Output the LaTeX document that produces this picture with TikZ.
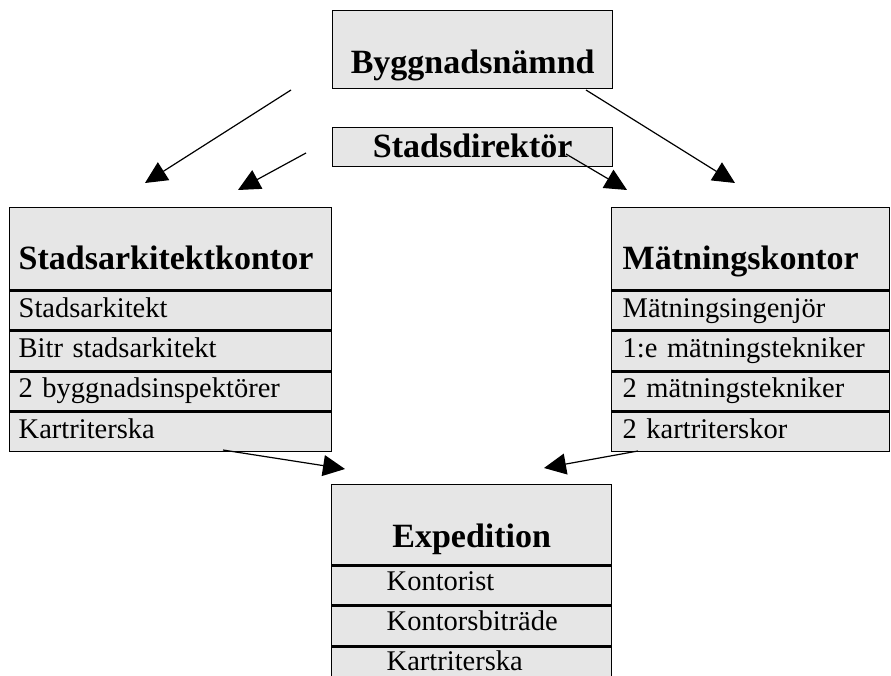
\documentclass[tikz,border=0pt]{standalone}
\usepackage{fontspec}
\setmainfont{Liberation Serif}
\usetikzlibrary{arrows.meta, positioning}
\definecolor{cellgray}{HTML}{E6E6E6}
\tikzstyle{cell} = [rectangle, draw, line width=1.4pt, fill=cellgray, inner ysep=0pt, anchor=north west, align=left]
\tikzstyle{head} = [cell, font=\fontsize{34}{36}\selectfont\bfseries]
\tikzstyle{row} = [cell, minimum height=39pt, text height=20pt, text depth=7pt, font=\fontsize{28.5}{30}\selectfont]
\tikzstyle{arkcol} = [text width=304pt, inner xsep=9pt]
\tikzstyle{matcol} = [text width=256pt, inner xsep=11pt]
\tikzstyle{expcol} = [text width=170pt, inner xsep=55pt]
\tikzstyle{reg} = [-{Triangle[length=22pt, width=21pt]}, line width=1.2pt]

\begin{document}
\begin{tikzpicture}[x=1pt, y=-1pt]
  \useasboundingbox (0,0) rectangle (891,676);

  % top
  \node[head, align=center, text width=280pt, inner xsep=0pt, minimum height=78pt,
        text height=52pt, text depth=4pt] (namnd) at (332,10) {Byggnadsnämnd};
  \node[head, align=center, text width=280pt, inner xsep=0pt, minimum height=39pt,
        text height=24pt, text depth=3pt] (dir) at (332,127) {Stadsdirektör};

  % Stadsarkitektkontor
  \node[head, arkcol, minimum height=82pt, text height=50pt, text depth=8pt] (ark) at (9,207) {Stadsarkitektkontor};
  \node[row, arkcol, below=0pt of ark] (ark1) {Stadsarkitekt};
  \node[row, arkcol, below=0pt of ark1] (ark2) {Bitr stadsarkitekt};
  \node[row, arkcol, below=0pt of ark2] (ark3) {2 byggnadsinspektörer};
  \node[row, arkcol, below=0pt of ark3] (ark4) {Kartriterska};

  % Mätningskontor
  \node[head, matcol, minimum height=82pt, text height=50pt, text depth=8pt] (mat) at (611,207) {Mätningskontor};
  \node[row, matcol, below=0pt of mat] (mat1) {Mätningsingenjör};
  \node[row, matcol, below=0pt of mat1] (mat2) {1:e mätningstekniker};
  \node[row, matcol, below=0pt of mat2] (mat3) {2 mätningstekniker};
  \node[row, matcol, below=0pt of mat3] (mat4) {2 kartriterskor};

  % Expedition
  \node[head, expcol, align=center, minimum height=80pt, text height=50pt, text depth=4pt] (exp) at (331,484) {Expedition};
  \node[row, expcol, text height=18pt, text depth=9pt, below=0pt of exp] (exp1) {Kontorist};
  \node[row, expcol, text height=18pt, text depth=9pt, below=0pt of exp1] (exp2) {Kontorsbiträde};
  \node[row, expcol, text height=18pt, text depth=9pt, below=0pt of exp2] (exp3) {Kartriterska};

  % arrow ends
  \coordinate (s1) at (291,90);  \coordinate (t1) at (145,183);
  \coordinate (s2) at (306,153); \coordinate (t2) at (238,190);
  \coordinate (s3) at (566,154); \coordinate (t3) at (627,190);
  \coordinate (s4) at (586,90);  \coordinate (t4) at (735,183);
  \coordinate (s5) at (223,450); \coordinate (t5) at (345,469);
  \coordinate (s6) at (638,451); \coordinate (t6) at (544,468);

  \draw[reg] (s1) -- (t1);
  \draw[reg] (s2) -- (t2);
  \draw[reg] (s3) -- (t3);
  \draw[reg] (s4) -- (t4);
  \draw[reg] (s5) -- (t5);
  \draw[reg] (s6) -- (t6);
\end{tikzpicture}
\end{document}
